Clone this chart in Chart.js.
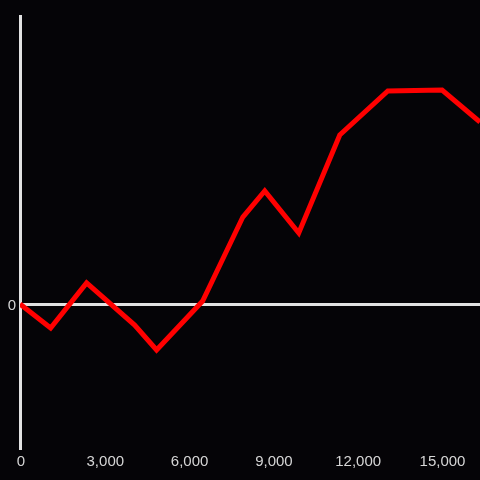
<!DOCTYPE html>
<html>
<head>
    <title>Line Chart</title>
    <script src="https://cdn.jsdelivr.net/npm/chart.js"></script>
    <style>
        html, body {
            margin: 0;
            padding: 0;
            background: #050407;
        }
        #wrap {
            width: 480px;
            height: 480px;
        }
    </style>
</head>
<body>
    <div id="wrap"><canvas id="lineChart" width="480" height="480"></canvas></div>

    <script>
    // data
    const xValues = [0, 1090, 2370, 4080, 4860, 6500, 7930, 8710, 9920, 11380, 13090, 15020, 16370];
    const yValues = [0, -16.7, 14.6, -14.6, -31.9, 2.1, 60.4, 78.5, 49.3, 117.4, 147.9, 148.6, 126.4];
    const xTickValues = [0, 3000, 6000, 9000, 12000, 15000];
    const yTickValues = [0];

    const points = xValues.map((x, i) => ({x: x, y: yValues[i]}));

    const bgPlugin = {
        id: 'bg',
        beforeDraw(chart) {
            const ctx = chart.ctx;
            ctx.save();
            ctx.fillStyle = '#050407';
            ctx.fillRect(0, 0, chart.width, chart.height);
            ctx.restore();
        }
    };

    Chart.defaults.font.family = '"Liberation Sans", Arial, sans-serif';
    Chart.defaults.font.size = 15;
    Chart.defaults.color = '#d6d6d6';

    new Chart(document.getElementById('lineChart').getContext('2d'), {
        type: 'line',
        data: {
            datasets: [{
                data: points,
                borderColor: '#ff0000',
                borderWidth: 5,
                pointRadius: 0,
                tension: 0,
                fill: false
            }]
        },
        options: {
            responsive: false,
            animation: false,
            layout: {
                padding: {top: 16, left: 0, right: 0, bottom: 0}
            },
            plugins: {
                legend: {display: false},
                tooltip: {enabled: false}
            },
            scales: {
                x: {
                    type: 'linear',
                    min: 0,
                    max: 16370,
                    afterBuildTicks: axis => {
                        axis.ticks = xTickValues.map(v => ({value: v}));
                    },
                    afterFit: axis => {
                        axis.height = 32;
                    },
                    grid: {display: false, drawTicks: false},
                    border: {display: false},
                    ticks: {
                        padding: 5,
                        labelOffset: 1,
                        maxRotation: 0,
                        autoSkip: false
                    }
                },
                y: {
                    type: 'linear',
                    min: -100,
                    max: 200,
                    afterBuildTicks: axis => {
                        axis.ticks = yTickValues.map(v => ({value: v}));
                    },
                    afterFit: axis => {
                        axis.width = 20;
                    },
                    grid: {
                        color: '#e2e2e2',
                        lineWidth: 3,
                        drawTicks: false
                    },
                    border: {
                        display: true,
                        color: '#e2e2e2',
                        width: 3
                    },
                    ticks: {
                        padding: 4,
                        labelOffset: 2
                    }
                }
            }
        },
        plugins: [bgPlugin]
    });
    </script>
</body>
</html>
